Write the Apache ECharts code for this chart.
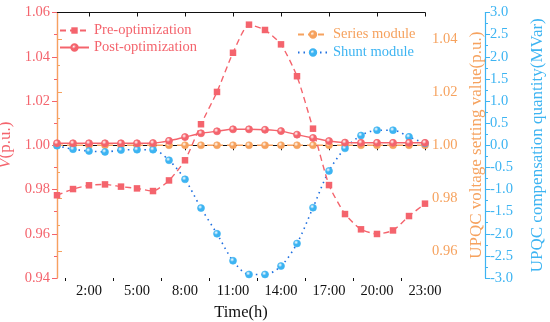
<!DOCTYPE html>
<html><head><meta charset="utf-8">
<script src="https://cdn.jsdelivr.net/npm/echarts@6/dist/echarts.min.js"></script>
<style>html,body{margin:0;padding:0;background:#fff}#c{width:550px;height:322px}</style>
</head><body><div id="c"></div>
<script>
const hours = [0,1,2,3,4,5,6,7,8,9,10,11,12,13,14,15,16,17,18,19,20,21,22,23];
const xTickValues = [2,5,8,11,14,17,20,23];
const xTickLabels = ['2:00','5:00','8:00','11:00','14:00','17:00','20:00','23:00'];
const xMinorTicks = [0.5,3.5,6.5,9.5,12.5,15.5,18.5,21.5];
const preOpt = [0.9774,0.9802,0.9819,0.9823,0.9813,0.9805,0.9793,0.9841,0.9932,1.0095,1.0241,1.0418,1.0545,1.0521,1.0456,1.0312,1.0075,0.9820,0.9689,0.9620,0.9599,0.9615,0.9680,0.9736];
const postOpt = [1.0009,1.0009,1.0009,1.0009,1.0009,1.0009,1.0010,1.0020,1.0037,1.0054,1.0063,1.0072,1.0072,1.0070,1.0064,1.0048,1.0033,1.0019,1.0012,1.0011,1.0011,1.0011,1.0011,1.0011];
const seriesModule = [1.000,1.000,1.000,1.000,1.000,1.000,1.000,1.000,1.000,1.000,1.000,1.000,1.000,1.000,1.000,1.000,1.000,1.000,1.000,1.000,1.000,1.000,1.000,1.000];
const shuntModule = [-0.01,-0.09,-0.13,-0.15,-0.11,-0.10,-0.10,-0.34,-0.77,-1.42,-2.00,-2.61,-2.92,-2.92,-2.73,-2.22,-1.41,-0.58,-0.07,0.22,0.34,0.34,0.19,0.04];
const orangeTicks = [0.96,0.98,1.00,1.02,1.04];
const orangeMinor = [0.97,0.99,1.01,1.03];

const RED = '#f4646d', ORANGE = '#f6a25e', BLUE = '#3db4f2';
const FONT = 'Liberation Serif';
function ball(c){return {type:'radial',x:0.38,y:0.35,r:0.65,colorStops:[{offset:0,color:'#ffffff'},{offset:0.45,color:c},{offset:1,color:c}]};}
const pair = a => a.map((v,i)=>[hours[i],v]);

const chart = echarts.init(document.getElementById('c'));
chart.setOption({
  animation:false,
  textStyle:{fontFamily:FONT},
  grid:{left:57,right:125,top:12.5,bottom:44,outerBoundsMode:'none',containLabel:false},
  legend:[
    {orient:'vertical',left:59,top:23,itemWidth:29,itemHeight:8,itemGap:2,padding:0,
     textStyle:{fontFamily:FONT,fontSize:14.5,color:RED},data:['Pre-optimization','Post-optimization']},
    {orient:'vertical',left:297,top:27,itemWidth:30,itemHeight:8,itemGap:3,padding:0,
     textStyle:{fontFamily:FONT,fontSize:14.5},data:[{name:'Series module',textStyle:{color:ORANGE}},{name:'Shunt module',textStyle:{color:BLUE}}]}
  ],
  xAxis:[
    {type:'value',min:0,max:23,position:'bottom',
     name:'Time(h)',nameLocation:'middle',nameGap:24,nameTextStyle:{fontFamily:FONT,fontSize:16.5,color:'#111'},
     axisLine:{show:true,lineStyle:{color:'#111',width:1.2}},
     axisTick:{show:true,customValues:xTickValues,length:5,lineStyle:{color:'#111'}},
     axisLabel:{customValues:xTickValues,formatter:v=>xTickLabels[xTickValues.indexOf(v)],fontFamily:FONT,fontSize:14.5,color:'#111',margin:6},
     splitLine:{show:false}},
    {type:'value',min:0,max:23,position:'bottom',
     axisLine:{show:false},axisTick:{show:true,customValues:xMinorTicks,length:3,lineStyle:{color:'#111'}},
     axisLabel:{show:false},splitLine:{show:false}},
    {type:'value',min:0,max:23,position:'top',
     axisLine:{show:true,lineStyle:{color:'#111',width:1.2}},
     axisTick:{show:true,inside:true,customValues:xTickValues,length:4,lineStyle:{color:'#111'}},
     axisLabel:{show:false},splitLine:{show:false}}
  ],
  yAxis:[
    {type:'value',min:0.94,max:1.06,interval:0.02,position:'left',
     name:'{i|V}(p.u.)',nameLocation:'middle',nameGap:38,
     nameTextStyle:{fontFamily:FONT,fontSize:17,color:RED,rich:{i:{fontStyle:'italic',fontFamily:FONT,fontSize:17,color:RED}}},
     axisLine:{show:true,lineStyle:{color:RED,width:1.2}},
     axisTick:{show:true,length:5,lineStyle:{color:RED}},
     minorTick:{show:true,splitNumber:2,length:3,lineStyle:{color:RED}},
     axisLabel:{formatter:v=>v.toFixed(2),fontFamily:FONT,fontSize:14.5,color:RED,margin:7},
     splitLine:{show:false}},
    {type:'value',min:0.95,max:1.05,position:'right',
     name:'UPQC voltage setting value(p.u.)',nameLocation:'middle',nameGap:38,
     nameTextStyle:{fontFamily:FONT,fontSize:17,color:ORANGE},
     axisLine:{show:true,lineStyle:{color:ORANGE,width:1.2}},
     axisTick:{show:true,customValues:orangeTicks,length:5,lineStyle:{color:ORANGE}},
     axisLabel:{customValues:orangeTicks,formatter:v=>v.toFixed(2),fontFamily:FONT,fontSize:14.5,color:ORANGE,margin:7},
     splitLine:{show:false}},
    {type:'value',min:0.95,max:1.05,position:'right',
     axisLine:{show:false},axisTick:{show:true,customValues:orangeMinor,length:3,lineStyle:{color:ORANGE}},
     axisLabel:{show:false},splitLine:{show:false}},
    {type:'value',min:-3,max:3,interval:0.5,position:'right',offset:60,
     name:'UPQC compensation quantity(MVar)',nameLocation:'middle',nameGap:44,
     nameTextStyle:{fontFamily:FONT,fontSize:17,color:BLUE},
     axisLine:{show:true,lineStyle:{color:BLUE,width:1.2}},
     axisTick:{show:true,length:5,lineStyle:{color:BLUE}},
     minorTick:{show:true,splitNumber:2,length:3,lineStyle:{color:BLUE}},
     axisLabel:{formatter:v=>v.toFixed(1),fontFamily:FONT,fontSize:14.5,color:BLUE,margin:5},
     splitLine:{show:false}}
  ],
  series:[
    {name:'Series module',type:'line',xAxisIndex:0,yAxisIndex:1,data:pair(seriesModule),
     symbol:'circle',symbolSize:7,lineStyle:{color:ORANGE,width:1.4,type:[6,4]},
     itemStyle:{color:ball(ORANGE),borderColor:ORANGE,borderWidth:0.6},z:2},
    {name:'Shunt module',type:'line',xAxisIndex:0,yAxisIndex:3,data:pair(shuntModule),smooth:0.3,
     symbol:'circle',symbolSize:7,lineStyle:{color:'#1e6fe0',width:1.6,type:[1.5,4]},
     itemStyle:{color:ball(BLUE),borderColor:BLUE,borderWidth:0.6},z:3},
    {name:'Post-optimization',type:'line',xAxisIndex:0,yAxisIndex:0,data:pair(postOpt),smooth:0.3,
     symbol:'circle',symbolSize:7,lineStyle:{color:RED,width:1.4,type:'solid'},
     itemStyle:{color:ball(RED),borderColor:RED,borderWidth:0.8},z:4},
    {name:'Pre-optimization',type:'line',xAxisIndex:0,yAxisIndex:0,data:pair(preOpt),smooth:0.2,
     symbol:'rect',symbolSize:6.5,lineStyle:{color:RED,width:1.4,type:[6,4]},
     itemStyle:{color:RED},z:5}
  ]
});
</script></body></html>
